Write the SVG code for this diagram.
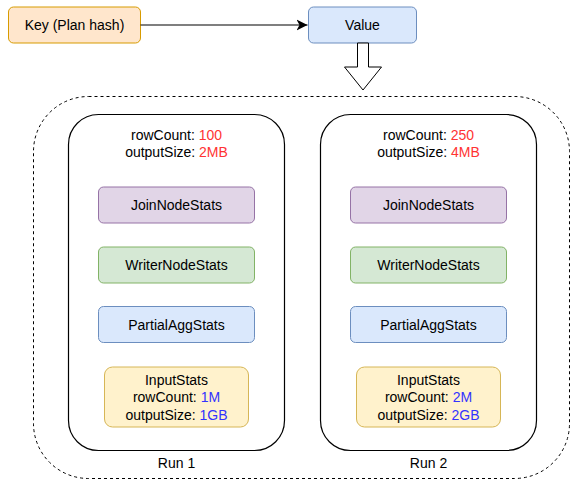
<svg xmlns="http://www.w3.org/2000/svg" width="571" height="482" viewBox="0 0 571 482">
<style>
text{font-family:"Liberation Sans",Arial,Helvetica,sans-serif;font-size:14px;fill:#000;text-anchor:middle}
.red{fill:#ff3333}
.blu{fill:#3333ff}
.orange{fill:#ffe6cc;stroke:#d79b00;stroke-width:1}
.blue{fill:#dae8fc;stroke:#6c8ebf;stroke-width:1}
.purple{fill:#e1d5e7;stroke:#9673a6;stroke-width:1}
.green{fill:#d5e8d4;stroke:#82b366;stroke-width:1}
.yellow{fill:#fff2cc;stroke:#d6b656;stroke-width:1}
.run{fill:#fff;stroke:#000;stroke-width:1.2}
</style>
<defs>
<marker id="arr" markerWidth="12" markerHeight="12" viewBox="0 0 12 12" refX="11" refY="6" orient="auto" markerUnits="userSpaceOnUse">
<path d="M11,6 L0,11.5 L3,6 L0,0.5 Z" fill="#000"/>
</marker>
</defs>
<g id="outer">
<rect x="33.5" y="96.5" width="536" height="382" rx="55" ry="55" fill="none" stroke="#000" stroke-width="1" stroke-dasharray="3,3"/>
</g>
<g id="key">
<rect class="orange" x="8.5" y="7" width="132" height="36" rx="5"/>
<text x="74.5" y="30">Key (Plan hash)</text>
</g>
<g id="value">
<rect class="blue" x="308.5" y="7" width="108" height="36" rx="5"/>
<text x="362.5" y="30">Value</text>
</g>
<g id="connectors">
<line x1="140.5" y1="25" x2="307.5" y2="25" stroke="#000" stroke-width="1.2" marker-end="url(#arr)"/>
<polygon points="357.5,43 368.5,43 368.5,67 381.5,67 363,90 344.5,67 357.5,67" fill="#fff" stroke="#000" stroke-width="1"/>
</g>
<g id="run1">
<rect class="run" x="68.5" y="114.5" width="216" height="336" rx="30"/>
<text x="176.5" y="140">rowCount: <tspan class="red">100</tspan></text>
<text x="176.5" y="157">outputSize: <tspan class="red">2MB</tspan></text>
<text x="176.5" y="468">Run 1</text>
</g>
<g id="join1"><rect class="purple" x="98.5" y="187" width="156" height="36" rx="5"/><text x="176.5" y="210">JoinNodeStats</text></g>
<g id="writer1"><rect class="green" x="98.5" y="247" width="156" height="36" rx="5"/><text x="176.5" y="270">WriterNodeStats</text></g>
<g id="partial1"><rect class="blue" x="98.5" y="306.5" width="156" height="36" rx="5"/><text x="176.5" y="329.5">PartialAggStats</text></g>
<g id="input1"><rect class="yellow" x="104.5" y="367" width="144" height="60" rx="8"/>
<text x="176.5" y="385">InputStats</text>
<text x="176.5" y="402">rowCount: <tspan class="blu">1M</tspan></text>
<text x="176.5" y="420">outputSize: <tspan class="blu">1GB</tspan></text></g>
<g id="run2">
<rect class="run" x="320.5" y="114.5" width="216" height="336" rx="30"/>
<text x="428.5" y="140">rowCount: <tspan class="red">250</tspan></text>
<text x="428.5" y="157">outputSize: <tspan class="red">4MB</tspan></text>
<text x="428.5" y="468">Run 2</text>
</g>
<g id="join2"><rect class="purple" x="350.5" y="187" width="156" height="36" rx="5"/><text x="428.5" y="210">JoinNodeStats</text></g>
<g id="writer2"><rect class="green" x="350.5" y="247" width="156" height="36" rx="5"/><text x="428.5" y="270">WriterNodeStats</text></g>
<g id="partial2"><rect class="blue" x="350.5" y="306.5" width="156" height="36" rx="5"/><text x="428.5" y="329.5">PartialAggStats</text></g>
<g id="input2"><rect class="yellow" x="356.5" y="367" width="144" height="60" rx="8"/>
<text x="428.5" y="385">InputStats</text>
<text x="428.5" y="402">rowCount: <tspan class="blu">2M</tspan></text>
<text x="428.5" y="420">outputSize: <tspan class="blu">2GB</tspan></text></g>
</svg>
